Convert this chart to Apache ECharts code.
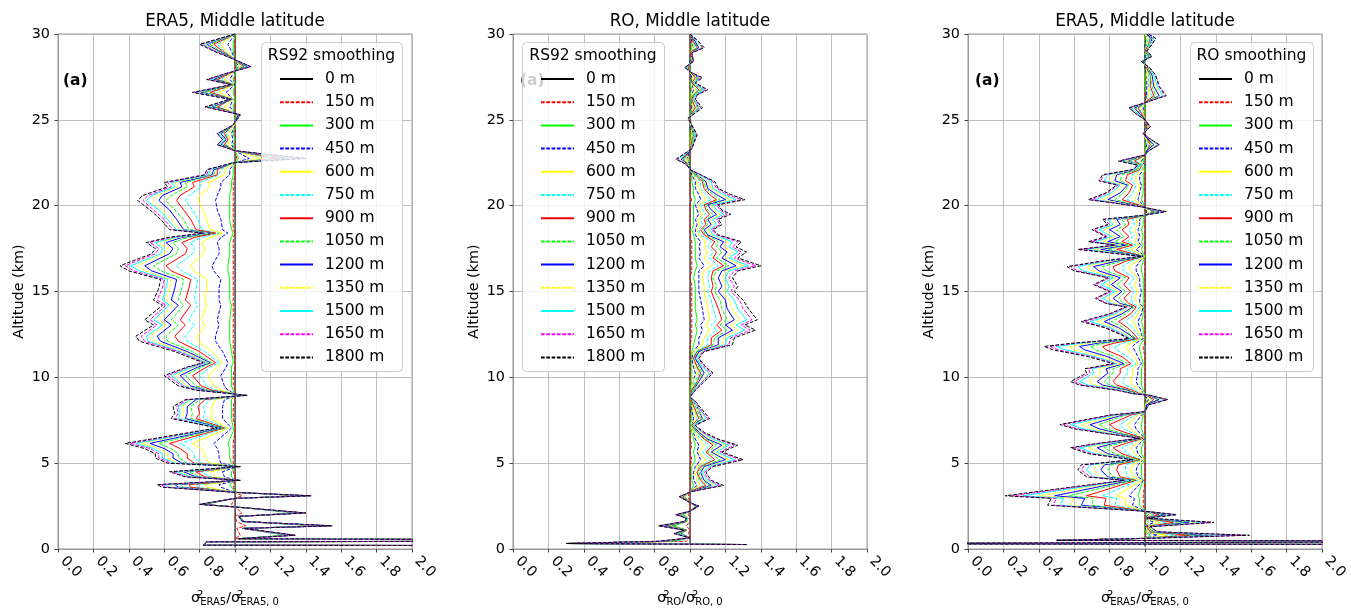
<!DOCTYPE html>
<html><head><meta charset="utf-8">
<script src="https://cdn.jsdelivr.net/npm/echarts@6/dist/echarts.min.js"></script>
<style>html,body{margin:0;padding:0;background:#fff}#c{width:1351px;height:612px}</style>
</head><body><div id="c"></div>
<script>
const smoothing = ['0 m','150 m','300 m','450 m','600 m','750 m','900 m','1050 m','1200 m','1350 m','1500 m','1650 m','1800 m'];
const panelTitles = ['ERA5, Middle latitude','RO, Middle latitude','ERA5, Middle latitude'];
const legendTitles = ['RS92 smoothing','RS92 smoothing','RO smoothing'];
const xSubs = ['ERA5','RO','ERA5'];
const panelTags = ['(a)','(a)','(a)'];

// ---------- Panel 1: ERA5, RS92 smoothing ----------
const alt1 = [30.0,29.4,29.0,28.5,28.1,27.7,27.35,27.05,26.6,26.2,25.75,25.3,24.7,24.2,23.85,23.55,23.2,22.75,22.5,22.1,21.8,21.35,21.1,20.6,20.3,19.75,19.2,18.6,18.4,18.15,17.85,17.5,17.2,16.5,16.2,15.7,15.2,14.5,14.2,13.35,13.05,12.4,12.1,11.5,10.85,10.6,10.1,9.5,9.25,8.95,8.7,8.3,7.9,7.6,7.05,6.85,6.15,5.85,5.55,5.3,5.0,4.8,4.5,4.2,4.0,3.75,3.6,3.3,3.1,2.95,2.6,2.45,2.1,1.9,1.6,1.35,1.2,0.8,0.6,0.48,0.42,0.22,0.18,0.1];
const p1_0 = [1,1,1,1,1,1,1,1,1,1,1,1,1,1,1,1,1,1,1,1,1,1,1,1,1,1,1,1,1,1,1,1,1,1,1,1,1,1,1,1,1,1,1,1,1,1,1,1,1,1,1,1,1,1,1,1,1,1,1,1,1,1,1,1,1,1,1,1,1,1,1,1,1,1,1,1,1,1,1,1,1,1,1,1];
const p1_150 = [1,1,1,1,1,1,1,1,1,1, 1,1,1,1,1,1,1,1.01,1,1, 1,0.99,0.99,0.99,0.99,0.99,0.99,0.99,1,0.99, 0.99,0.99,0.99,0.99,0.99,0.99,0.99,0.99,0.99,0.99, 0.99,0.99,0.99,0.99,1,1,0.99,0.99,1,1, 1,0.99,0.99,0.99,1,1,0.99,0.99,0.99,0.99, 0.99,1,0.99,1,1,0.99,0.99,1,1.04,1, 0.98,1,1.04,1,1.01,1.06,1.01,1.03,1,4, 0.84,0.82,4,4];
const p1_300 = [1,0.99,0.99,1,1.01,1,0.99,1,0.99,1, 0.99,1,1,0.99,1,0.99,1,1.02,1,0.99, 0.99,0.98,0.98,0.97,0.97,0.97,0.97,0.98,0.99,0.98, 0.97,0.97,0.97,0.96,0.96,0.97,0.97,0.97,0.98,0.97, 0.97,0.97,0.97,0.98,0.99,0.98,0.98,0.98,0.99,1, 0.98,0.98,0.98,0.98,0.99,0.99,0.96,0.97,0.97,0.97, 0.98,1,0.98,0.98,1,0.97,0.98,1,1.37,1, 0.83,1,1.34,1.02,1.04,1.47,1.04,1.29,1.02,4, 0.84,0.82,4,4];
const p1_450 = [1,0.96,0.98,1,1.02,0.99,0.97,1,0.95,0.99, 0.97,1.01,1,0.98,0.99,0.98,1,1.08,1,0.97, 0.97,0.92,0.92,0.9,0.89,0.9,0.92,0.93,0.96,0.92, 0.9,0.91,0.91,0.87,0.88,0.92,0.91,0.91,0.92,0.9, 0.91,0.89,0.89,0.93,0.96,0.95,0.92,0.94,0.96,1.01, 0.94,0.93,0.93,0.93,0.98,0.96,0.88,0.9,0.91,0.91, 0.92,1.01,0.93,0.94,1.01,0.91,0.92,1,1.38,1, 0.82,1,1.35,1.02,1.04,1.48,1.04,1.3,1.02,4, 0.84,0.82,4,4];
const p1_600 = [1,0.92,0.95,1,1.03,0.98,0.94,0.99,0.91,0.99, 0.94,1.01,1,0.96,0.97,0.96,1,1.15,1,0.94, 0.94,0.85,0.86,0.8,0.79,0.82,0.84,0.86,0.93,0.86, 0.81,0.83,0.82,0.75,0.77,0.84,0.84,0.83,0.84,0.81, 0.83,0.79,0.79,0.87,0.93,0.9,0.85,0.88,0.92,1.03, 0.89,0.87,0.87,0.86,0.96,0.92,0.76,0.81,0.83,0.83, 0.86,1.01,0.86,0.89,1.01,0.83,0.84,1,1.39,1, 0.82,1,1.36,1.02,1.05,1.5,1.05,1.31,1.02,4, 0.84,0.82,4,4];
const p1_750 = [1,0.9,0.94,1,1.04,0.97,0.92,0.99,0.88,0.98, 0.91,1.02,0.99,0.95,0.96,0.95,1,1.2,0.99,0.92, 0.91,0.8,0.81,0.74,0.72,0.76,0.79,0.81,0.91,0.81, 0.75,0.77,0.76,0.67,0.7,0.79,0.78,0.77,0.79,0.74, 0.77,0.72,0.73,0.83,0.91,0.86,0.8,0.84,0.89,1.04, 0.86,0.82,0.83,0.82,0.95,0.89,0.69,0.74,0.77,0.77, 0.81,1.02,0.81,0.86,1.02,0.78,0.79,1,1.4,1, 0.82,1,1.37,1.02,1.05,1.51,1.05,1.31,1.02,4, 0.84,0.82,4,4];
const p1_900 = [1,0.88,0.93,1,1.05,0.97,0.9,0.99,0.86,0.98, 0.9,1.02,0.99,0.94,0.96,0.94,1,1.24,0.99,0.9, 0.9,0.76,0.77,0.69,0.67,0.71,0.75,0.78,0.89,0.77, 0.7,0.73,0.72,0.61,0.64,0.75,0.74,0.72,0.75,0.69, 0.72,0.66,0.68,0.8,0.89,0.84,0.76,0.81,0.87,1.04, 0.83,0.79,0.8,0.78,0.94,0.87,0.63,0.69,0.73,0.73, 0.77,1.02,0.78,0.83,1.02,0.74,0.75,1,1.4,1, 0.81,1,1.38,1.02,1.05,1.52,1.05,1.32,1.02,4, 0.84,0.82,4,4];
const p1_1050 = [1,0.86,0.92,1,1.06,0.96,0.89,0.99,0.83,0.98, 0.88,1.02,0.99,0.93,0.95,0.93,1,1.28,0.99,0.89, 0.88,0.72,0.73,0.64,0.61,0.66,0.71,0.74,0.87,0.73, 0.65,0.68,0.67,0.54,0.58,0.71,0.7,0.68,0.71,0.64, 0.68,0.61,0.62,0.76,0.87,0.81,0.72,0.78,0.85,1.05, 0.8,0.75,0.76,0.75,0.93,0.85,0.57,0.64,0.68,0.68, 0.73,1.02,0.74,0.8,1.02,0.69,0.71,1,1.41,1, 0.81,1,1.38,1.02,1.05,1.52,1.05,1.32,1.02,4, 0.84,0.82,4,4];
const p1_1200 = [1,0.84,0.91,1,1.07,0.96,0.88,0.98,0.81,0.98, 0.87,1.02,0.99,0.92,0.95,0.92,1,1.31,0.99,0.88, 0.87,0.69,0.7,0.59,0.57,0.63,0.67,0.71,0.86,0.7, 0.61,0.65,0.63,0.49,0.53,0.67,0.66,0.64,0.68,0.6, 0.64,0.56,0.58,0.73,0.86,0.79,0.69,0.75,0.83,1.05, 0.78,0.73,0.73,0.72,0.92,0.83,0.52,0.6,0.65,0.65, 0.7,1.02,0.71,0.78,1.02,0.66,0.68,1,1.41,1, 0.81,1,1.38,1.02,1.05,1.53,1.05,1.33,1.02,4, 0.84,0.82,4,4];
const p1_1350 = [1,0.83,0.9,1,1.08,0.96,0.86,0.98,0.8,0.97, 0.86,1.03,0.99,0.91,0.94,0.91,1,1.34,0.99,0.86, 0.86,0.66,0.68,0.56,0.53,0.59,0.64,0.69,0.85,0.68, 0.57,0.62,0.6,0.45,0.49,0.64,0.63,0.61,0.65,0.57, 0.61,0.52,0.54,0.71,0.85,0.77,0.66,0.73,0.81,1.06, 0.76,0.7,0.71,0.69,0.91,0.81,0.47,0.57,0.62,0.62, 0.68,1.03,0.69,0.76,1.03,0.63,0.65,1,1.42,1, 0.81,1,1.39,1.02,1.05,1.53,1.05,1.33,1.02,4, 0.84,0.82,4,4];
const p1_1500 = [1,0.82,0.89,1,1.08,0.95,0.86,0.98,0.78,0.97, 0.85,1.03,0.99,0.91,0.94,0.91,1,1.36,0.99,0.86, 0.85,0.64,0.66,0.53,0.5,0.57,0.62,0.67,0.84,0.66, 0.55,0.59,0.58,0.41,0.46,0.62,0.61,0.59,0.63,0.54, 0.59,0.5,0.51,0.69,0.84,0.76,0.64,0.71,0.8,1.06, 0.75,0.68,0.69,0.68,0.91,0.8,0.44,0.54,0.59,0.59, 0.66,1.03,0.67,0.75,1.03,0.6,0.63,1,1.42,1, 0.8,1,1.39,1.02,1.05,1.54,1.05,1.33,1.02,4, 0.84,0.82,4,4];
const p1_1650 = [1,0.81,0.89,1,1.09,0.95,0.85,0.98,0.77,0.97, 0.84,1.03,0.99,0.9,0.93,0.9,1,1.38,0.99,0.85, 0.84,0.62,0.64,0.51,0.48,0.54,0.6,0.65,0.83,0.64, 0.52,0.57,0.55,0.38,0.43,0.6,0.59,0.56,0.61,0.52, 0.56,0.47,0.49,0.68,0.83,0.74,0.62,0.7,0.79,1.07, 0.73,0.67,0.68,0.66,0.9,0.79,0.41,0.52,0.57,0.57, 0.64,1.03,0.65,0.73,1.03,0.58,0.61,1,1.43,1, 0.8,1,1.4,1.02,1.05,1.54,1.05,1.34,1.02,4, 0.84,0.82,4,4];
const p1_1800 = [1,0.8,0.88,1,1.09,0.95,0.84,0.98,0.76,0.97, 0.83,1.03,0.99,0.9,0.93,0.9,1,1.4,0.99,0.84, 0.83,0.6,0.62,0.48,0.45,0.52,0.58,0.63,0.82,0.62, 0.5,0.55,0.53,0.35,0.4,0.58,0.57,0.54,0.59,0.49, 0.54,0.44,0.46,0.66,0.82,0.73,0.6,0.68,0.78,1.07, 0.72,0.65,0.66,0.64,0.9,0.78,0.38,0.49,0.55,0.55, 0.62,1.03,0.63,0.72,1.03,0.56,0.59,1,1.43,1, 0.8,1,1.4,1.02,1.05,1.55,1.05,1.34,1.02,4, 0.84,0.82,4,4];

// ---------- Panel 2: RO, RS92 smoothing ----------
const alt2 = [30.0,29.55,29.2,28.9,28.4,28.05,27.8,27.45,27.15,26.75,26.45,26.2,25.7,25.4,25.1,24.5,24.15,23.3,22.9,22.7,22.4,22.1,21.8,21.4,21.0,20.65,20.35,20.05,19.75,19.5,19.2,18.9,18.6,18.3,17.9,17.6,17.3,16.95,16.5,16.2,15.8,15.3,15.0,14.5,14.0,13.35,13.05,12.75,12.3,11.9,11.5,11.1,10.6,10.25,9.75,9.25,8.85,8.6,8.1,7.6,7.2,6.8,6.4,6.05,5.65,5.2,4.8,4.45,4.0,3.7,3.35,3.05,2.7,2.5,2.2,2.0,1.8,1.6,1.35,1.1,0.9,0.65,0.45,0.32,0.26];
const p2_0 = [1,1,1,1,1,1,1,1,1,1,1,1,1,1,1,1,1,1,1,1,1,1,1,1,1,1,1,1,1,1,1,1,1,1,1,1,1,1,1,1,1,1,1,1,1,1,1,1,1,1,1,1,1,1,1,1,1,1,1,1,1,1,1,1,1,1,1,1,1,1,1,1,1,1,1,1,1,1,1,1,1,1,1,1,1];
const p2_150 = [1,1,1,1,1,1,1,1,1,1, 1,1,1,1,1,1,1,1,1,1, 1,1,1,1,1,1,1.01,1,1,1, 1,1,1,1,1.01,1.01,1.01,1.01,1.01,1.01, 1,1.01,1.01,1.01,1.01,1.01,1.01,1.01,1.01,1, 1,1,1,1,1,1,1,1,1,1, 1,1,1,1.01,1,1.01,1,1,1,1, 1,0.99,1,1,1,0.99,1,1,0.98,1, 0.99,1,0.98,0.3,1.32];
const p2_300 = [1,1.01,1.01,1,1,1,1,1.01,1,1.01, 1,1,1.01,1,1,1,1,1,0.99,0.99, 1,1,1.01,1.01,1.02,1.02,1.03,1.02,1.02,1.02, 1.02,1.02,1.01,1.02,1.03,1.03,1.03,1.03,1.04,1.03, 1.02,1.03,1.03,1.03,1.03,1.04,1.03,1.04,1.03,1.02, 1.01,1.01,1.01,1.01,1.01,1,1,1,1.01,1.01, 1,1.01,1.02,1.03,1.02,1.03,1.01,1.01,1.01,1.02, 1,0.97,1,1.03,1,0.96,0.99,0.98,0.91,0.98, 0.95,1,0.91,0.3,1.32];
const p2_450 = [1,1.01,1.02,1,1,0.99,1,1.01,1.01,1.02, 1.01,1.01,1.01,1.01,1,1,1.01,1,0.99,0.98, 1,1,1.01,1.03,1.03,1.05,1.06,1.03,1.04,1.05, 1.03,1.04,1.03,1.03,1.06,1.05,1.06,1.05,1.08,1.05, 1.05,1.05,1.05,1.06,1.07,1.08,1.06,1.07,1.05,1.05, 1.02,1.01,1.02,1.03,1.02,1.01,1,1.01,1.01,1.02, 1.01,1.02,1.03,1.05,1.04,1.06,1.03,1.02,1.02,1.04, 1,0.96,1,1.03,1,0.95,0.99,0.98,0.89,0.98, 0.95,1,0.89,0.3,1.32];
const p2_600 = [1,1.02,1.02,1,1.01,0.99,1,1.02,1.01,1.03, 1.01,1.01,1.02,1.01,1,1.01,1.01,1,0.98,0.98, 0.99,1,1.02,1.04,1.05,1.07,1.09,1.05,1.05,1.07, 1.05,1.05,1.04,1.05,1.09,1.08,1.1,1.08,1.12,1.08, 1.07,1.08,1.08,1.09,1.1,1.11,1.09,1.11,1.08,1.07, 1.02,1.02,1.03,1.04,1.02,1.01,1,1.01,1.02,1.03, 1.01,1.02,1.05,1.08,1.05,1.09,1.04,1.03,1.04,1.06, 1,0.96,1,1.03,1,0.95,0.99,0.98,0.88,0.98, 0.94,1,0.88,0.3,1.32];
const p2_750 = [1,1.02,1.03,1,1.01,0.99,1,1.03,1.01,1.04, 1.02,1.01,1.03,1.01,1,1.01,1.02,1,0.98,0.97, 0.99,1,1.02,1.06,1.06,1.09,1.12,1.06,1.07,1.09, 1.06,1.07,1.05,1.06,1.12,1.1,1.13,1.11,1.16,1.11, 1.1,1.11,1.1,1.12,1.13,1.15,1.12,1.15,1.1,1.1, 1.03,1.02,1.04,1.05,1.03,1.01,1,1.01,1.03,1.04, 1.01,1.03,1.06,1.11,1.07,1.12,1.05,1.04,1.05,1.08, 1,0.96,1,1.04,1,0.94,0.99,0.98,0.87,0.98, 0.94,1,0.87,0.3,1.32];
const p2_900 = [1,1.02,1.04,1,1.01,0.99,1,1.03,1.01,1.05, 1.02,1.01,1.03,1.01,1,1.01,1.02,1,0.98,0.96, 0.99,1,1.03,1.07,1.08,1.11,1.15,1.08,1.09,1.11, 1.08,1.09,1.06,1.08,1.14,1.12,1.15,1.13,1.19,1.13, 1.12,1.13,1.12,1.14,1.16,1.18,1.15,1.18,1.12,1.12, 1.04,1.02,1.04,1.06,1.04,1.01,1,1.01,1.03,1.05, 1.01,1.04,1.08,1.13,1.09,1.14,1.06,1.04,1.06,1.09, 1,0.96,1,1.04,1,0.94,0.98,0.98,0.86,0.98, 0.93,1,0.86,0.3,1.32];
const p2_1050 = [1,1.03,1.04,1.01,1.01,0.98,1,1.04,1.02,1.06, 1.02,1.02,1.04,1.02,0.99,1.01,1.02,1.01,0.97,0.96, 0.99,1,1.03,1.08,1.09,1.13,1.17,1.09,1.1,1.13, 1.09,1.1,1.07,1.09,1.16,1.15,1.18,1.15,1.22,1.15, 1.13,1.15,1.14,1.17,1.18,1.21,1.17,1.21,1.14,1.13, 1.04,1.03,1.05,1.07,1.04,1.02,1,1.02,1.04,1.06, 1.02,1.04,1.09,1.15,1.1,1.17,1.07,1.05,1.07,1.11, 1.01,0.95,1,1.04,1,0.94,0.98,0.98,0.86,0.98, 0.93,1,0.86,0.3,1.32];
const p2_1200 = [1,1.03,1.05,1.01,1.01,0.98,1,1.05,1.02,1.07, 1.03,1.02,1.05,1.02,0.99,1.01,1.03,1.01,0.97,0.95, 0.99,1,1.04,1.09,1.1,1.15,1.2,1.1,1.12,1.15, 1.1,1.12,1.08,1.1,1.19,1.17,1.21,1.18,1.26,1.18, 1.16,1.18,1.16,1.2,1.21,1.25,1.2,1.24,1.16,1.16, 1.05,1.03,1.06,1.08,1.05,1.02,1,1.02,1.05,1.07, 1.02,1.05,1.1,1.18,1.12,1.2,1.08,1.06,1.08,1.12, 1.01,0.95,1,1.04,1,0.93,0.98,0.97,0.85,0.97, 0.92,1,0.85,0.3,1.32];
const p2_1350 = [1,1.04,1.06,1.01,1.01,0.98,1,1.05,1.02,1.07, 1.03,1.02,1.05,1.02,0.99,1.01,1.03,1.01,0.96,0.94, 0.99,1,1.04,1.1,1.12,1.17,1.23,1.12,1.13,1.17, 1.12,1.13,1.1,1.12,1.21,1.19,1.24,1.2,1.3,1.2, 1.18,1.2,1.19,1.22,1.24,1.28,1.23,1.27,1.19,1.18, 1.06,1.04,1.07,1.1,1.06,1.02,1,1.02,1.05,1.08, 1.02,1.06,1.12,1.2,1.13,1.22,1.1,1.07,1.09,1.14, 1.01,0.95,1,1.05,1,0.93,0.98,0.97,0.84,0.97, 0.92,1,0.84,0.3,1.32];
const p2_1500 = [1,1.04,1.07,1.01,1.02,0.98,1,1.06,1.02,1.08, 1.03,1.02,1.06,1.02,0.99,1.02,1.03,1.01,0.96,0.93, 0.98,1,1.05,1.12,1.13,1.19,1.26,1.13,1.15,1.19, 1.13,1.15,1.11,1.13,1.24,1.22,1.27,1.22,1.33,1.22, 1.2,1.22,1.21,1.25,1.27,1.32,1.26,1.31,1.21,1.2, 1.07,1.04,1.07,1.11,1.07,1.02,1,1.02,1.06,1.09, 1.02,1.07,1.13,1.22,1.15,1.25,1.11,1.07,1.1,1.16, 1.01,0.94,1,1.05,1,0.93,0.98,0.97,0.83,0.97, 0.92,1,0.83,0.3,1.32];
const p2_1650 = [1,1.05,1.07,1.01,1.02,0.97,1,1.06,1.03,1.09, 1.04,1.03,1.06,1.03,0.99,1.02,1.04,1.01,0.95,0.93, 0.98,1,1.06,1.13,1.15,1.21,1.29,1.15,1.17,1.21, 1.15,1.17,1.12,1.15,1.27,1.24,1.29,1.25,1.37,1.25, 1.22,1.25,1.23,1.28,1.3,1.35,1.29,1.34,1.23,1.22, 1.07,1.05,1.08,1.12,1.07,1.03,1,1.03,1.06,1.1, 1.03,1.07,1.15,1.25,1.17,1.28,1.12,1.08,1.11,1.17, 1.01,0.94,1,1.05,1,0.92,0.98,0.97,0.83,0.97, 0.91,1,0.83,0.3,1.32];
const p2_1800 = [1,1.05,1.08,1.01,1.02,0.97,1,1.07,1.03,1.1, 1.04,1.03,1.07,1.03,0.99,1.02,1.04,1.01,0.95,0.92, 0.98,1,1.06,1.14,1.16,1.23,1.31,1.16,1.18,1.23, 1.16,1.18,1.13,1.16,1.29,1.26,1.32,1.27,1.4,1.27, 1.24,1.27,1.25,1.3,1.33,1.38,1.31,1.37,1.25,1.24, 1.08,1.05,1.09,1.13,1.08,1.03,1,1.03,1.07,1.11, 1.03,1.08,1.16,1.27,1.18,1.3,1.13,1.09,1.12,1.19, 1.01,0.94,1,1.05,1,0.92,0.98,0.97,0.82,0.97, 0.91,1,0.82,0.3,1.32];

// ---------- Panel 3: ERA5, RO smoothing ----------
const alt3 = [30.0,29.75,29.4,29.0,28.7,28.4,28.0,27.6,26.95,26.4,26.1,25.7,25.35,25.0,24.6,24.2,23.95,23.55,23.2,22.95,22.6,22.35,22.1,21.8,21.45,21.2,20.75,20.35,19.95,19.65,19.45,19.2,18.9,18.6,18.2,17.9,17.7,17.45,17.05,16.75,16.45,16.2,15.8,15.4,15.0,14.6,14.3,14.1,13.7,13.25,12.9,12.5,12.25,12.0,11.8,11.6,11.2,10.8,10.5,10.25,9.75,9.55,9.25,9.05,8.95,8.7,8.4,8.0,7.8,7.25,7.0,6.75,6.45,6.15,5.9,5.55,5.2,4.9,4.6,4.2,4.0,3.1,2.95,2.55,2.2,2.0,1.8,1.55,1.3,1.0,0.8,0.62,0.5,0.46,0.36,0.31,0.24,0.15];
const p3_0 = [1,1,1,1,1,1,1,1,1,1,1,1,1,1,1,1,1,1,1,1,1,1,1,1,1,1,1,1,1,1,1,1,1,1,1,1,1,1,1,1,1,1,1,1,1,1,1,1,1,1,1,1,1,1,1,1,1,1,1,1,1,1,1,1,1,1,1,1,1,1,1,1,1,1,1,1,1,1,1,1,1,1,1,1,1,1,1,1,1,1,1,1,1,1,1,1,1,1];
const p3_150 = [1,1,1,1,1,1,1,1,1,1, 1,1,1,1,1,1,1,1,1,1, 1,1,1,1,1,1,1,1,1,1, 1,1,1,1,1,1,1,1,1,1, 1,1,1,1,1,1,1,1,1,1, 1,1,1,1,0.99,0.99,1,1,1,1, 1,1,1,1,1,1,1,1,1,1, 1,1,1,1,1,1,1,1,1,1, 1,0.99,0.99,0.99,1,1,1,1,1,1, 1.01,1,0.5,4,4,-1,4,4];
const p3_300 = [1,1,1,1,1,1,1,1,1,1.01, 1,1,1,1,1,1,1,1,1,1, 0.99,1,1,0.99,0.99,0.99,0.99,0.98,1,1.01, 1,0.99,0.99,0.98,0.99,0.98,0.99,0.98,1,0.99, 0.98,0.98,0.99,0.99,0.99,0.99,0.99,0.99,0.99,0.98, 0.99,0.99,1,0.98,0.97,0.97,0.98,0.99,0.98,0.98, 0.98,0.98,0.99,1,1,1.01,1,1,0.99,0.98, 0.98,0.99,1,0.99,0.98,0.98,1,0.98,0.98,0.98, 0.99,0.96,0.97,0.97,1,1.01,1,1.02,1,1, 1.03,1,0.5,4,4,-1,4,4];
const p3_450 = [1,1.01,1,1,1,1,1,1.01,1.01,1.01, 1,0.99,0.99,1,1,1,1,1.01,1,1, 0.98,1,0.99,0.97,0.97,0.98,0.97,0.96,1,1.01, 1,0.97,0.97,0.96,0.97,0.96,0.98,0.95,1,0.97, 0.95,0.95,0.97,0.97,0.98,0.97,0.97,0.99,0.98,0.96, 0.97,0.98,0.99,0.95,0.93,0.94,0.96,0.98,0.96,0.96, 0.95,0.96,0.98,0.99,1,1.02,1,1,0.98,0.94, 0.95,0.97,1,0.97,0.95,0.96,0.99,0.96,0.95,0.96, 0.99,0.91,0.94,0.93,1,1.02,1,1.05,1,1.01, 1.07,1,0.5,4,4,-1,4,4];
const p3_600 = [1,1.01,1.01,1,1.01,1,1.01,1.01,1.02,1.02, 1.01,0.98,0.99,1,1.01,1,1,1.02,1,1, 0.97,0.99,0.99,0.95,0.95,0.97,0.96,0.94,0.99,1.02, 1,0.95,0.96,0.94,0.96,0.94,0.97,0.92,1,0.95, 0.91,0.92,0.96,0.94,0.96,0.94,0.96,0.98,0.96,0.93, 0.95,0.97,0.98,0.92,0.89,0.9,0.94,0.96,0.93,0.93, 0.92,0.93,0.97,0.99,1.01,1.03,1,1,0.96,0.9, 0.92,0.95,0.99,0.95,0.92,0.94,0.99,0.93,0.92,0.93, 0.98,0.84,0.89,0.89,1,1.04,1,1.08,1.01,1.01, 1.12,1,0.5,4,4,-1,4,4];
const p3_750 = [1.01,1.02,1.01,1,1.01,0.99,1.01,1.02,1.02,1.04, 1.01,0.97,0.98,1,1.01,1,1.01,1.02,1.01,1, 0.95,0.99,0.98,0.93,0.92,0.95,0.93,0.9,0.99,1.04, 1,0.93,0.94,0.91,0.93,0.9,0.95,0.89,0.99,0.92, 0.87,0.88,0.94,0.91,0.94,0.92,0.93,0.97,0.94,0.89, 0.93,0.96,0.97,0.88,0.83,0.84,0.9,0.95,0.9,0.9, 0.87,0.89,0.95,0.98,1.01,1.04,1.01,1,0.94,0.86, 0.88,0.93,0.99,0.92,0.87,0.9,0.98,0.89,0.89,0.9, 0.96,0.76,0.84,0.83,1,1.05,1,1.12,1.01,1.02, 1.18,1,0.5,4,4,-1,4,4];
const p3_900 = [1.01,1.03,1.02,1,1.02,0.99,1.01,1.03,1.03,1.05, 1.01,0.96,0.98,1,1.01,1,1.01,1.03,1.01,1, 0.94,0.98,0.97,0.9,0.89,0.93,0.91,0.87,0.99,1.05, 1,0.9,0.91,0.87,0.91,0.87,0.93,0.84,0.99,0.89, 0.82,0.83,0.91,0.88,0.92,0.88,0.91,0.95,0.92,0.85, 0.9,0.94,0.96,0.83,0.76,0.78,0.87,0.92,0.86,0.86, 0.82,0.84,0.93,0.97,1.01,1.05,1.01,1,0.92,0.8, 0.83,0.9,0.99,0.89,0.82,0.87,0.97,0.85,0.84,0.86, 0.95,0.67,0.78,0.77,1,1.08,1,1.16,1.01,1.03, 1.25,1,0.5,4,4,-1,4,4];
const p3_1050 = [1.01,1.03,1.02,1.01,1.02,0.99,1.02,1.03,1.04,1.06, 1.02,0.95,0.97,1,1.02,0.99,1.01,1.04,1.01,1, 0.92,0.98,0.96,0.87,0.86,0.91,0.88,0.83,0.98,1.06, 1,0.87,0.89,0.84,0.88,0.83,0.91,0.79,0.99,0.86, 0.76,0.78,0.89,0.84,0.89,0.85,0.88,0.94,0.89,0.81, 0.88,0.92,0.95,0.78,0.69,0.72,0.83,0.9,0.82,0.82, 0.77,0.8,0.91,0.96,1.02,1.07,1.01,1,0.89,0.74, 0.78,0.87,0.98,0.85,0.77,0.83,0.96,0.81,0.79,0.82, 0.94,0.57,0.71,0.7,1,1.1,1.01,1.21,1.02,1.04, 1.32,1.01,0.5,4,4,-1,4,4];
const p3_1200 = [1.01,1.04,1.03,1.01,1.03,0.99,1.02,1.04,1.05,1.08, 1.02,0.94,0.97,1,1.02,0.99,1.01,1.05,1.01,1, 0.9,0.97,0.95,0.84,0.83,0.9,0.86,0.79,0.98,1.08, 1,0.84,0.86,0.8,0.86,0.79,0.89,0.75,0.99,0.83, 0.71,0.74,0.86,0.81,0.87,0.82,0.86,0.93,0.87,0.77, 0.85,0.91,0.94,0.74,0.63,0.66,0.79,0.88,0.78,0.79, 0.73,0.76,0.9,0.95,1.02,1.08,1.01,1,0.87,0.69, 0.74,0.84,0.98,0.82,0.73,0.79,0.95,0.77,0.75,0.79, 0.92,0.49,0.66,0.64,1,1.12,1.01,1.25,1.02,1.05, 1.38,1.01,0.5,4,4,-1,4,4];
const p3_1350 = [1.02,1.05,1.03,1.01,1.03,0.98,1.02,1.05,1.06,1.09, 1.02,0.93,0.96,1,1.02,0.99,1.02,1.06,1.02,1, 0.89,0.97,0.95,0.82,0.8,0.88,0.83,0.76,0.98,1.09, 1,0.82,0.84,0.77,0.83,0.76,0.87,0.71,0.98,0.8, 0.67,0.7,0.84,0.78,0.85,0.79,0.83,0.92,0.85,0.73, 0.83,0.89,0.93,0.7,0.57,0.6,0.76,0.86,0.74,0.75, 0.68,0.72,0.88,0.95,1.02,1.1,1.02,1,0.85,0.64, 0.7,0.82,0.98,0.79,0.68,0.76,0.95,0.73,0.71,0.75, 0.91,0.4,0.6,0.58,1,1.14,1.01,1.3,1.02,1.05, 1.45,1.01,0.5,4,4,-1,4,4];
const p3_1500 = [1.02,1.05,1.03,1.01,1.03,0.98,1.03,1.05,1.07,1.1, 1.03,0.92,0.96,1,1.03,0.99,1.02,1.07,1.02,1, 0.87,0.97,0.94,0.79,0.77,0.86,0.81,0.72,0.97,1.1, 1,0.79,0.82,0.74,0.81,0.72,0.85,0.67,0.98,0.77, 0.62,0.65,0.82,0.75,0.83,0.76,0.81,0.9,0.83,0.69, 0.8,0.88,0.92,0.65,0.5,0.55,0.72,0.84,0.7,0.71, 0.63,0.68,0.86,0.94,1.03,1.11,1.02,1,0.83,0.58, 0.65,0.79,0.97,0.77,0.63,0.72,0.94,0.69,0.67,0.71, 0.9,0.31,0.54,0.52,1,1.16,1.01,1.34,1.03,1.06, 1.51,1.01,0.5,4,4,-1,4,4];
const p3_1650 = [1.02,1.06,1.04,1.01,1.04,0.98,1.03,1.06,1.08,1.11, 1.03,0.91,0.95,1,1.03,0.99,1.02,1.08,1.02,1, 0.86,0.96,0.93,0.77,0.75,0.85,0.79,0.7,0.97,1.11, 1,0.77,0.8,0.71,0.79,0.7,0.84,0.64,0.98,0.75, 0.58,0.62,0.8,0.72,0.81,0.73,0.79,0.9,0.81,0.66, 0.78,0.87,0.91,0.62,0.46,0.51,0.7,0.83,0.68,0.69, 0.6,0.65,0.85,0.93,1.03,1.12,1.02,1,0.81,0.54, 0.62,0.77,0.97,0.74,0.6,0.7,0.93,0.66,0.64,0.69, 0.89,0.25,0.5,0.48,1,1.17,1.01,1.37,1.03,1.07, 1.56,1.01,0.5,4,4,-1,4,4];
const p3_1800 = [1.02,1.06,1.04,1.01,1.04,0.98,1.03,1.06,1.08,1.12, 1.03,0.91,0.95,1,1.03,0.99,1.02,1.08,1.02,1, 0.85,0.96,0.93,0.76,0.74,0.84,0.78,0.68,0.97,1.12, 1,0.76,0.79,0.7,0.78,0.68,0.83,0.62,0.98,0.74, 0.56,0.6,0.79,0.71,0.8,0.72,0.78,0.89,0.8,0.64, 0.77,0.86,0.91,0.6,0.43,0.48,0.68,0.82,0.66,0.67, 0.58,0.63,0.84,0.93,1.03,1.13,1.02,1,0.8,0.52, 0.6,0.76,0.97,0.73,0.58,0.68,0.93,0.64,0.62,0.67, 0.88,0.21,0.47,0.45,1,1.18,1.01,1.39,1.03,1.07, 1.59,1.01,0.5,4,4,-1,4,4];

// ---------- assemble ----------
const panelAlt = [alt1, alt2, alt3];
const panelVals = [
  [p1_0,p1_150,p1_300,p1_450,p1_600,p1_750,p1_900,p1_1050,p1_1200,p1_1350,p1_1500,p1_1650,p1_1800],
  [p2_0,p2_150,p2_300,p2_450,p2_600,p2_750,p2_900,p2_1050,p2_1200,p2_1350,p2_1500,p2_1650,p2_1800],
  [p3_0,p3_150,p3_300,p3_450,p3_600,p3_750,p3_900,p3_1050,p3_1200,p3_1350,p3_1500,p3_1650,p3_1800]
];

// styles
const FONT = 'DejaVu Sans';
const lineColors = ['#000000','#ff0000','#00ff00','#0000ff','#ffff00','#00ffff','#ff0000','#00ff00','#0000ff','#ffff00','#00ffff','#ff00ff','#000000'];
const DASH = [3.7, 1.6];
const lineTypes = ['solid',DASH,'solid',DASH,'solid',DASH,'solid',DASH,'solid',DASH,'solid',DASH,DASH];
const gridLefts = [58, 513, 968];
const GW = 354, GT = 34, GH = 515;
const legendBox = [[261,141],[522,142],[1190,123]];
const legendItemLeft = [279, 540, 1198];
const tagX = [63, 520, 975];

const grids = [], xAxes = [], yAxes = [], series = [], legends = [], graphics = [];
for (let p = 0; p < 3; p++) {
  grids.push({left: gridLefts[p], top: GT, width: GW, height: GH, show: true, borderColor: '#999', borderWidth: 1, containLabel: false});
  xAxes.push({
    type: 'value', gridIndex: p, min: 0, max: 2, interval: 0.2,
    axisLine: {show: true, lineStyle: {color: '#999', width: 1}},
    axisTick: {show: true, length: 3.5, lineStyle: {color: '#444'}},
    splitLine: {show: true, lineStyle: {color: '#b0b0b0', width: 0.8}},
    axisLabel: {rotate: -45, margin: 5, padding: [0,0,0,7], fontSize: 14.4, fontFamily: FONT, color: '#000',
      formatter: v => v.toFixed(1)},
    name: '{b|σ}{p|2}{s|' + xSubs[p] + '}{b|/σ}{p|2}{s|' + xSubs[p] + ', 0}',
    nameLocation: 'middle', nameGap: 41,
    nameTextStyle: {rich: {
      b: {fontSize: 14.4, fontFamily: FONT, color: '#000', lineHeight: 17},
      p: {fontSize: 10, fontFamily: FONT, color: '#000', lineHeight: 10, verticalAlign: 'top', width: 0},
      s: {fontSize: 10, fontFamily: FONT, color: '#000', lineHeight: 3, verticalAlign: 'bottom'}
    }}
  });
  yAxes.push({
    type: 'value', gridIndex: p, min: 0, max: 30, interval: 5,
    axisLine: {show: true, lineStyle: {color: '#999', width: 1}},
    axisTick: {show: true, length: 3.5, lineStyle: {color: '#444'}},
    splitLine: {show: true, lineStyle: {color: '#b0b0b0', width: 0.8}},
    axisLabel: {margin: 8, fontSize: 14.4, fontFamily: FONT, color: '#000'},
    name: 'Altitude (km)', nameLocation: 'middle', nameGap: 32, nameRotate: 90,
    nameTextStyle: {fontSize: 14.4, fontFamily: FONT, color: '#000'}
  });
  const alt = panelAlt[p];
  panelVals[p].forEach((vals, k) => {
    const n = Math.min(alt.length, vals.length);
    const data = [];
    for (let i = 0; i < n; i++) data.push([vals[i], alt[i]]);
    series.push({
      type: 'line', name: smoothing[k], xAxisIndex: p, yAxisIndex: p, data,
      symbol: 'none', showSymbol: false, clip: true, silent: true, z: 2,
      lineStyle: {color: lineColors[k], width: 1, type: lineTypes[k]},
      itemStyle: {color: lineColors[k]}
    });
  });
  legends.push({
    orient: 'vertical', left: legendItemLeft[p], top: 71, padding: 0,
    itemWidth: 33, itemHeight: 16, itemGap: 7.2, selectedMode: false, z: 6,
    itemStyle: {opacity: 0, color: 'rgba(0,0,0,0)', borderColor: 'rgba(0,0,0,0)', borderWidth: 0},
    data: smoothing.slice(),
    textStyle: {fontSize: 15.5, fontFamily: FONT, color: '#000', lineHeight: 16, padding: [0,0,0,7]}
  });
  const cx = gridLefts[p] + GW / 2;
  graphics.push({type: 'text', x: cx, y: 22, z: 10, style: {text: panelTitles[p], fontSize: 16.8, fontFamily: FONT, fill: '#000', align: 'center', verticalAlign: 'middle', textAlign: 'center', textVerticalAlign: 'middle'}});
  graphics.push({type: 'text', x: tagX[p], y: 81, z: 1, style: {text: panelTags[p], fontSize: 15.5, fontWeight: 'bold', fontFamily: FONT, fill: '#000', align: 'left', verticalAlign: 'middle', textAlign: 'left', textVerticalAlign: 'middle'}});
  graphics.push({type: 'rect', z: 5, shape: {x: legendBox[p][0] + 0.5, y: 42.5, width: legendBox[p][1], height: 329, r: 4}, style: {fill: 'rgba(255,255,255,0.8)', stroke: '#cccccc', lineWidth: 1}});
  graphics.push({type: 'text', z: 7, x: legendBox[p][0] + legendBox[p][1] / 2, y: 56, style: {text: legendTitles[p], fontSize: 15.5, fontFamily: FONT, fill: '#000', align: 'center', verticalAlign: 'middle', textAlign: 'center', textVerticalAlign: 'middle'}});
}

const chart = echarts.init(document.getElementById('c'), null, {renderer: 'canvas'});
chart.setOption({
  animation: false,
  backgroundColor: '#fff',
  grid: grids, xAxis: xAxes, yAxis: yAxes, series, legend: legends,
  graphic: {elements: graphics}
});
</script></body></html>
